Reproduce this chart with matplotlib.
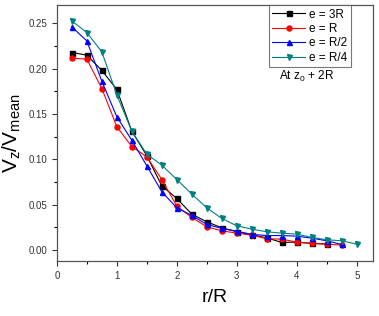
import numpy as np
import matplotlib
matplotlib.use("Agg")
import matplotlib.pyplot as plt
from matplotlib.ticker import MultipleLocator

plt.rcParams['font.family'] = ['Liberation Sans', 'DejaVu Sans']

r = [0.25, 0.5, 0.75, 1.0, 1.25, 1.5, 1.75, 2.0, 2.25, 2.5, 2.75, 3.0,
     3.25, 3.5, 3.75, 4.0, 4.25, 4.5, 4.75, 5.0]

e_3R = [0.2177, 0.2148, 0.198, 0.177, 0.131, 0.104, 0.0708, 0.0569, 0.0396,
        0.0312, 0.0246, 0.0202, 0.0169, 0.0135, 0.0085, 0.0088, 0.0075, 0.0068]
e_R = [0.2115, 0.2104, 0.178, 0.136, 0.114, 0.1028, 0.0778, 0.0485, 0.036,
       0.0257, 0.0213, 0.0187, 0.0165, 0.0125, 0.0121, 0.0088, 0.0073, 0.0066, 0.0055]
e_R2 = [0.246, 0.2305, 0.186, 0.147, 0.121, 0.0929, 0.0643, 0.0466, 0.0382,
        0.0283, 0.0239, 0.0209, 0.0173, 0.0161, 0.016, 0.0154, 0.0132, 0.0103, 0.0062]
e_R4 = [0.2525, 0.2397, 0.2184, 0.171, 0.131, 0.1057, 0.0936, 0.0778, 0.0617,
        0.0466, 0.0349, 0.0268, 0.0231, 0.0202, 0.0187, 0.0176, 0.014, 0.0114, 0.0103, 0.0066]

series = [
    (e_3R, 'e = 3R', 'black', 's'),
    (e_R, 'e = R', 'red', 'o'),
    (e_R2, 'e = R/2', 'blue', '^'),
    (e_R4, 'e = R/4', '#008080', 'v'),
]

fig = plt.figure(figsize=(3.79, 3.16), dpi=100)
ax = fig.add_axes([0.150, 0.174, 0.834, 0.810])

for vals, label, color, marker in series:
    ax.plot(r[:len(vals)], vals, color=color, marker=marker, markersize=3.6,
            linewidth=0.8, label=label)

ax.set_xlim(0, 5.27)
ax.set_ylim(-0.012, 0.27)
ax.xaxis.set_major_locator(MultipleLocator(1))
ax.xaxis.set_minor_locator(MultipleLocator(0.5))
ax.yaxis.set_major_locator(MultipleLocator(0.05))
ax.yaxis.set_minor_locator(MultipleLocator(0.025))
ax.set_yticklabels([f"{v:.2f}" for v in ax.get_yticks()])
ax.tick_params(which='major', direction='out', length=3.5, width=0.8,
               labelsize=7, colors='#333333')
ax.tick_params(which='minor', direction='out', length=2, width=0.8)
for s in ax.spines.values():
    s.set_color('#555555')
    s.set_linewidth(0.9)

ax.set_xlabel('r/R', fontsize=14, labelpad=6)
ax.set_ylabel(r'$\mathregular{V_z/V_{mean}}$', fontsize=15, labelpad=4)

leg = ax.legend(loc='upper right', bbox_to_anchor=(0.93, 1.0), fontsize=8.5,
                frameon=True, fancybox=False, edgecolor='#555555',
                handlelength=2.8, handletextpad=0.3, borderpad=0.3,
                labelspacing=0.2, borderaxespad=0.0)
leg.get_frame().set_linewidth(0.8)
ax.text(0.79, 0.75, r'At z$_\mathregular{0}$ + 2R', transform=ax.transAxes,
        fontsize=8.5, ha='center', va='top')

fig.savefig('out.png', dpi=100)
